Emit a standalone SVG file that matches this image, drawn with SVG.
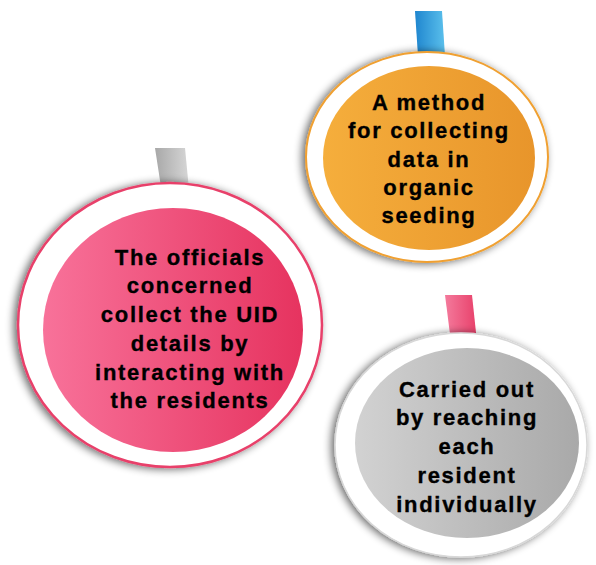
<svg xmlns="http://www.w3.org/2000/svg" width="596" height="565" viewBox="0 0 596 565">
<defs>
<filter id="sh" x="-20%" y="-20%" width="140%" height="140%">
<feGaussianBlur in="SourceAlpha" stdDeviation="4"/>
<feOffset dx="-3" dy="1" result="b"/>
<feComponentTransfer><feFuncA type="linear" slope="0.6"/></feComponentTransfer>
<feMerge><feMergeNode/><feMergeNode in="SourceGraphic"/></feMerge>
</filter>
<linearGradient id="gOr" x1="0" y1="0" x2="1" y2="0"><stop offset="0" stop-color="#F5AE3C"/><stop offset="1" stop-color="#E8952B"/></linearGradient>
<linearGradient id="gPk" x1="0" y1="0" x2="1" y2="0"><stop offset="0" stop-color="#F8729A"/><stop offset="1" stop-color="#E6335F"/></linearGradient>
<linearGradient id="gGr" x1="0" y1="0" x2="1" y2="0"><stop offset="0" stop-color="#D2D2D2"/><stop offset="0.5" stop-color="#BDBDBD"/><stop offset="1" stop-color="#A9A9A9"/></linearGradient>
<linearGradient id="tBl" x1="0" y1="0" x2="1" y2="0"><stop offset="0" stop-color="#1F86CF"/><stop offset="1" stop-color="#5BC0EC"/></linearGradient>
<linearGradient id="tGr" x1="0" y1="0" x2="1" y2="0"><stop offset="0" stop-color="#A8A8A8"/><stop offset="1" stop-color="#D8D8D8"/></linearGradient>
<linearGradient id="tPk" x1="0" y1="0" x2="1" y2="0"><stop offset="0" stop-color="#F47A9C"/><stop offset="1" stop-color="#E8406A"/></linearGradient>
</defs>
<style>
text{font-family:"Liberation Sans",Arial,sans-serif;font-weight:bold;font-size:22px;letter-spacing:1.7px;fill:#000;stroke:#000;stroke-width:0.35px;text-anchor:middle}
.ring{fill:#fff}
</style>
<g id="connectors"/>
<g id="node-orange">
<polygon points="415,11 442,11 445,56 418,56" fill="url(#tBl)"/>
<ellipse class="ring" cx="427" cy="157" rx="121" ry="105" stroke="#F0A030" stroke-width="2" filter="url(#sh)"/>
<ellipse cx="429" cy="158" rx="106" ry="92" fill="url(#gOr)"/>
<text x="429" y="110">A method</text>
<text x="429" y="138">for collecting</text>
<text x="429" y="167">data in</text>
<text x="429" y="195">organic</text>
<text x="429" y="223">seeding</text>
</g>
<g id="node-pink">
<polygon points="155,148 185,148 190,200 163,200" fill="url(#tGr)"/>
<ellipse class="ring" cx="170" cy="325" rx="152" ry="142" stroke="#E8406A" stroke-width="2.5" filter="url(#sh)"/>
<ellipse cx="173" cy="330" rx="130" ry="122" fill="url(#gPk)"/>
<text x="190" y="265">The officials</text>
<text x="190" y="293">concerned</text>
<text x="190" y="322">collect the UID</text>
<text x="190" y="351">details by</text>
<text x="190" y="380">interacting with</text>
<text x="190" y="408">the residents</text>
</g>
<g id="node-gray">
<polygon points="445,295 472,295 477,342 451,342" fill="url(#tPk)"/>
<ellipse class="ring" cx="461" cy="445" rx="126" ry="112" stroke="#D8D8D8" stroke-width="1.5" filter="url(#sh)"/>
<ellipse cx="467" cy="443" rx="112" ry="95" fill="url(#gGr)"/>
<text x="467" y="397">Carried out</text>
<text x="467" y="425">by reaching</text>
<text x="467" y="454">each</text>
<text x="467" y="483">resident</text>
<text x="467" y="512">individually</text>
</g>
</svg>
